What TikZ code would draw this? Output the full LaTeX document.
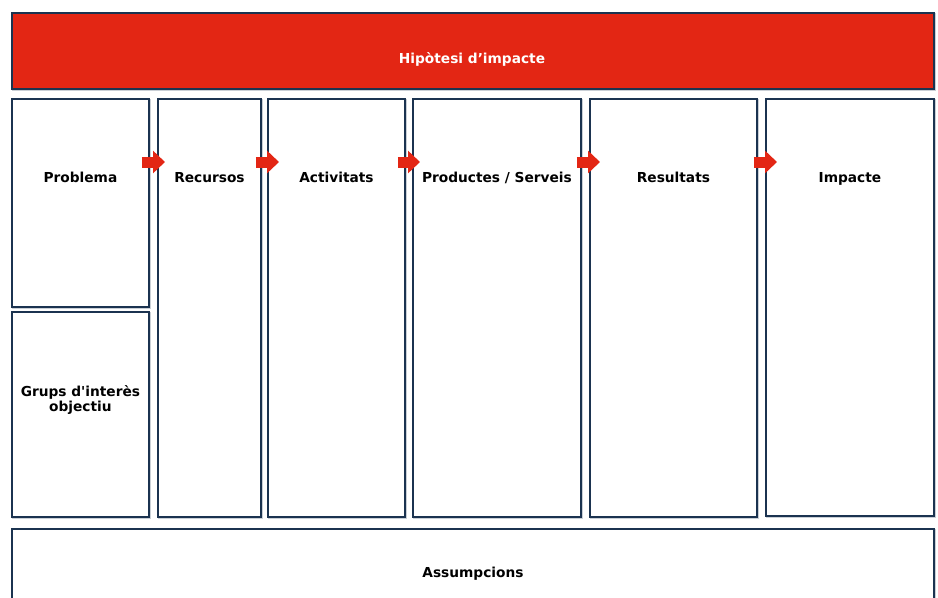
\documentclass[tikz,border=0pt]{standalone}
\usepackage{fontspec}
\setmainfont{DejaVu Sans}
\usetikzlibrary{arrows.meta}
\definecolor{navy}{HTML}{1B3350}
\definecolor{flame}{HTML}{E32614}
\definecolor{shade}{HTML}{C9CFD6}
\tikzset{
  box/.style={draw=navy, line width=1.4pt, fill=white, inner sep=0pt, anchor=north west,
    preaction={draw=shade, line width=1.2pt, transform canvas={shift={(0.9pt,-0.9pt)}}}},
  titlebar/.style={box, fill=flame},
  lbl/.style={font=\fontsize{10.3}{12}\selectfont\bfseries, align=center, inner sep=0pt, anchor=base},
  flow/.style={draw=flame, line width=8.25pt, line cap=butt,
    -{Triangle[length=9pt, width=16.5pt]}}
}
% a cell given by its top-left corner and its size, in pixel units
\newcommand\cellbox[6][box]{\node[#1, minimum width=#5*0.75pt, minimum height=#6*0.75pt] (#2) at (#3,#4) {};}
\begin{document}
\begin{tikzpicture}[x=0.75pt, y=-0.75pt]
\useasboundingbox (0,0) rectangle (938,597);
% header
\cellbox[titlebar]{hyp}{11}{12}{922}{76}
\node[lbl, text=white] (hyptxt) at (472,63) {Hipòtesi d’impacte};
% columns
\cellbox{prob}{11}{98}{137}{208}
\cellbox{grups}{11}{311}{137}{205}
\cellbox{rec}{157}{98}{103}{418}
\cellbox{act}{267}{98}{137}{418}
\cellbox{prod}{412}{98}{168}{418}
\cellbox{res}{589}{98}{167}{418}
\cellbox{imp}{765}{98}{168}{417}
% footer
\cellbox{assum}{11}{528}{922}{90}
% labels
\node[lbl] (probtxt) at (prob.center |- 0,182) {Problema};
\node[lbl] (rectxt) at (rec.center |- 0,182) {Recursos};
\node[lbl] (acttxt) at (act.center |- 0,182) {Activitats};
\node[lbl] (prodtxt) at (prod.center |- 0,182) {Productes / Serveis};
\node[lbl] (restxt) at (res.center |- 0,182) {Resultats};
\node[lbl] (imptxt) at (imp.center |- 0,182) {Impacte};
\node[lbl] (grupstxt) at (grups.center |- 0,396) {Grups d\textquotesingle interès};
\node[lbl] (grupstxtb) at (grups.center |- 0,411) {objectiu};
\node[lbl] (assumtxt) at (assum.center |- 0,577) {Assumpcions};
% flow arrows between the columns
\draw[flow] ([xshift=-8*0.75pt]prob.east |- 0,162) -- ([xshift=8*0.75pt]rec.west |- 0,162);
\draw[flow] ([xshift=-6*0.75pt]rec.east |- 0,162) -- ([xshift=12*0.75pt]act.west |- 0,162);
\draw[flow] ([xshift=-8*0.75pt]act.east |- 0,162) -- ([xshift=8*0.75pt]prod.west |- 0,162);
\draw[flow] ([xshift=-5*0.75pt]prod.east |- 0,162) -- ([xshift=11*0.75pt]res.west |- 0,162);
\draw[flow] ([xshift=-4*0.75pt]res.east |- 0,162) -- ([xshift=12*0.75pt]imp.west |- 0,162);
\end{tikzpicture}
\end{document}
